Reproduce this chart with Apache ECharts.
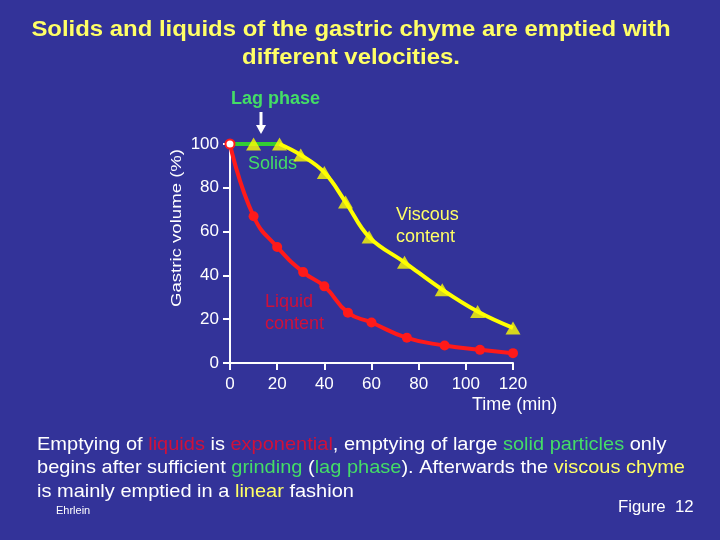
<!DOCTYPE html>
<html><head><meta charset="utf-8">
<script src="https://cdn.jsdelivr.net/npm/echarts@6/dist/echarts.min.js"></script>
<style>html,body{margin:0;padding:0;background:#333399;}#c{width:720px;height:540px;}</style>
</head><body><div id="c"></div>
<script>
// Data
const liquidTime   = [0, 10, 20, 31, 40, 50, 60, 75, 91, 106, 120];
const liquidVolume = [100, 67, 53, 41.5, 35, 23, 18.5, 11.5, 8, 6, 4.5];
const lagTime      = [0, 21];
const lagVolume    = [100, 100];
const solidTime    = [10, 21, 30, 40, 49, 59, 74, 90, 105, 120];
const solidVolume  = [100, 100, 95, 87, 73.5, 57.5, 46, 33.5, 23.5, 16];
const xTicks = [0, 20, 40, 60, 80, 100, 120];
const yTicks = [0, 20, 40, 60, 80, 100];

const BG = '#333399', RED = '#ff1a1a', DRED = '#d0103a', YEL = '#ffff00', GRN = '#33cc33', LGRN = '#44dd66';
const FONT = 'Liberation Sans, Arial, sans-serif';

const chart = echarts.init(document.getElementById('c'), null, {renderer: 'canvas'});

const liquidData = liquidTime.map((t, i) => i === 0
  ? {value: [t, liquidVolume[i]], symbolSize: 9, itemStyle: {color: '#ffffff', borderColor: RED, borderWidth: 2}}
  : [t, liquidVolume[i]]);
const solidPairs = solidTime.map((t, i) => [t, solidVolume[i]]);
const solidLine = solidPairs.filter(p => p[0] >= lagTime[1]);

chart.setOption({
  backgroundColor: BG,
  animation: false,
  grid: {left: 230, right: 207, top: 144, bottom: 177},
  xAxis: {
    type: 'value', min: 0, max: 120, interval: 20,
    axisLine: {lineStyle: {color: '#ffffff', width: 2}},
    axisTick: {length: 7, lineStyle: {color: '#ffffff', width: 2}},
    axisLabel: {color: '#ffffff', fontSize: 17, fontFamily: FONT, margin: 13,
      formatter: v => xTicks.includes(v) ? String(v) : ''},
    splitLine: {show: false}
  },
  yAxis: {
    type: 'value', min: 0, max: 100, interval: 20,
    axisLine: {lineStyle: {color: '#ffffff', width: 2}},
    axisTick: {length: 7, lineStyle: {color: '#ffffff', width: 2}},
    axisLabel: {color: '#ffffff', fontSize: 17, fontFamily: FONT, margin: 11,
      formatter: v => yTicks.includes(v) ? String(v) : ''},
    splitLine: {show: false}
  },
  series: [
    {type: 'line', data: lagTime.map((t, i) => [t, lagVolume[i]]), symbol: 'none',
      lineStyle: {color: GRN, width: 4}, z: 2},
    {type: 'line', data: solidLine, smooth: 0.4, symbol: 'none',
      lineStyle: {color: YEL, width: 4}, z: 2},
    {type: 'scatter', data: solidPairs, symbol: 'triangle', symbolSize: [15, 13],
      itemStyle: {color: YEL}, z: 3},
    {type: 'line', data: liquidData, smooth: 0.5, symbol: 'circle', symbolSize: 10, showAllSymbol: true,
      itemStyle: {color: RED}, lineStyle: {color: RED, width: 4}, z: 4}
  ],
  graphic: [
    {type: 'text', x: 351, y: 16, scaleX: 1.087, style: {
      text: 'Solids and liquids of the gastric chyme are emptied with\ndifferent velocities.',
      fill: '#ffff66', font: 'bold 22px ' + FONT, lineHeight: 28, align: 'center', verticalAlign: 'top'}},
    {type: 'text', x: 177, y: 228, rotation: Math.PI / 2, scaleX: 1.24, style: {
      text: 'Gastric volume (%)', fill: '#ffffff', font: '15px ' + FONT, align: 'center', verticalAlign: 'middle'}},
    {type: 'text', x: 231, y: 99, style: {text: 'Lag phase', fill: LGRN, font: 'bold 18px ' + FONT, verticalAlign: 'middle'}},
    {type: 'line', shape: {x1: 261, y1: 112, x2: 261, y2: 126}, style: {stroke: '#ffffff', lineWidth: 3}},
    {type: 'polygon', shape: {points: [[256, 125], [266, 125], [261, 134]]}, style: {fill: '#ffffff'}},
    {type: 'text', x: 248, y: 164, style: {text: 'Solids', fill: LGRN, font: '18px ' + FONT, verticalAlign: 'middle'}},
    {type: 'text', x: 396, y: 204, style: {text: 'Viscous\ncontent', fill: '#ffff66', font: '18px ' + FONT, lineHeight: 22, verticalAlign: 'top'}},
    {type: 'text', x: 265, y: 291, style: {text: 'Liquid\ncontent', fill: DRED, font: '18px ' + FONT, lineHeight: 22, verticalAlign: 'top'}},
    {type: 'text', x: 472, y: 405, style: {text: 'Time (min)', fill: '#ffffff', font: '18px ' + FONT, verticalAlign: 'middle'}},
    {type: 'text', x: 37, y: 433, scaleX: 1.053, style: {
      text: '{w|Emptying of }{r|liquids}{w| is }{r|exponential}{w|, emptying of large }{g|solid particles}{w| only}\n' +
            '{w|begins after sufficient }{g|grinding}{w| (}{g|lag phase}{w|). Afterwards the }{y|viscous chyme}\n' +
            '{w|is mainly emptied in a }{y|linear}{w| fashion}',
      font: '19px ' + FONT, lineHeight: 23.5, verticalAlign: 'top',
      rich: {
        w: {fill: '#ffffff', font: '19px ' + FONT, lineHeight: 23.5},
        r: {fill: DRED, font: '19px ' + FONT, lineHeight: 23.5},
        g: {fill: LGRN, font: '19px ' + FONT, lineHeight: 23.5},
        y: {fill: '#ffff66', font: '19px ' + FONT, lineHeight: 23.5}
      }}},
    {type: 'text', x: 56, y: 511, style: {text: 'Ehrlein', fill: '#ffffff', font: '11px ' + FONT, verticalAlign: 'middle'}},
    {type: 'text', x: 618, y: 508, scaleX: 1.05, style: {text: 'Figure  12', fill: '#ffffff', font: '16px ' + FONT, verticalAlign: 'middle'}}
  ]
});
</script></body></html>
